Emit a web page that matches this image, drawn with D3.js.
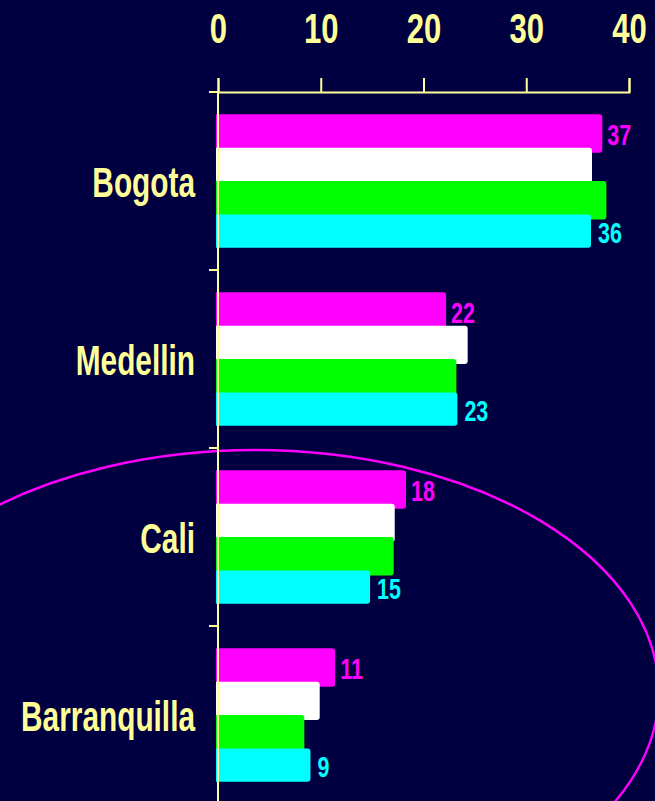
<!DOCTYPE html>
<html>
<head>
<meta charset="utf-8">
<script src="https://cdn.jsdelivr.net/npm/d3@7"></script>
<style>
  html, body { margin: 0; padding: 0; background: #000040; }
  svg { display: block; }
  text { font-family: "Liberation Sans", Arial, sans-serif; font-weight: bold; }
</style>
</head>
<body>
<div id="chart"></div>
<script>
// categories and series
var cities = ["Bogota", "Medellin", "Cali", "Barranquilla"];
var seriesKeys = ["s1", "s2", "s3", "s4"];
var seriesColors = ["#ff00ff", "#ffffff", "#00ff00", "#00ffff"];
var magentaVals = [37.4, 22.2, 18.3, 11.4];
var whiteVals = [36.4, 24.3, 17.2, 9.9];
var greenVals = [37.8, 23.2, 17.1, 8.4];
var cyanVals = [36.3, 23.3, 14.8, 9.0];
var xTicks = [0, 10, 20, 30, 40];
var labelled = ["s1", "s4"];   // only these series carry value labels

var allVals = [magentaVals, whiteVals, greenVals, cyanVals];
var data = cities.map(function(c, i) {
  var row = {city: c};
  seriesKeys.forEach(function(k, j) { row[k] = allVals[j][i]; });
  return row;
});

var W = 655, H = 801,
    axisY = 92, plotBottom = 804,
    left = 218, right = 629,
    axisCol = "#ffff99",
    overlap = 5,
    narrow = 0.74,    // condensed look of the original lettering
    narrowCat = 0.71;

var svg = d3.select("#chart").append("svg")
    .attr("width", W)
    .attr("height", H);

var x = d3.scaleLinear().domain([0, 40]).range([left, right]);
var y0 = d3.scaleBand().domain(cities).range([axisY, plotBottom])
    .paddingInner(0.25).paddingOuter(0.125);
var y1 = d3.scaleBand().domain(seriesKeys).range([0, y0.bandwidth()]);
var color = d3.scaleOrdinal().domain(seriesKeys).range(seriesColors);

// annotation ellipse around the lower part
var bStep = y0.step();
svg.append("ellipse")
    .attr("cx", x(3.6))
    .attr("cy", y0("Barranquilla") + y0.bandwidth() / 2 - 23)
    .attr("rx", x(39.3) - x(0))
    .attr("ry", 242)
    .attr("fill", "none")
    .attr("stroke", "#ff00ff")
    .attr("stroke-width", 2.4);

function barPath(x0, y, w, h, r) {
  return "M" + x0 + "," + y + "H" + (x0 + w - r) +
    "Q" + (x0 + w) + "," + y + " " + (x0 + w) + "," + (y + r) +
    "V" + (y + h - r) +
    "Q" + (x0 + w) + "," + (y + h) + " " + (x0 + w - r) + "," + (y + h) +
    "H" + x0 + "Z";
}
function barH(k) {
  return y1.bandwidth() + (k === seriesKeys[seriesKeys.length - 1] ? 0 : overlap);
}

var group = svg.selectAll(".city")
  .data(data)
  .enter().append("g")
    .attr("class", "city")
    .attr("transform", function(d) { return "translate(0," + y0(d.city) + ")"; });

group.selectAll("path")
    .data(function(d) { return seriesKeys.map(function(k) { return {key: k, value: d[k]}; }); })
  .enter().append("path")
    .attr("fill", function(d) { return color(d.key); })
    .attr("d", function(d) {
      return barPath(x(0) - 2, y1(d.key), x(d.value) - x(0) + 2, barH(d.key), 3);
    });

group.selectAll(".val")
    .data(function(d) {
      return labelled.map(function(k) { return {key: k, value: d[k]}; });
    })
  .enter().append("text")
    .attr("class", "val")
    .attr("transform", "scale(" + narrow + ",1)")
    .attr("x", function(d) { return (x(d.value) + (d.key === "s1" ? 5 : 7)) / narrow; })
    .attr("y", function(d) { return y1(d.key) + barH(d.key) / 2; })
    .attr("dy", "0.4em")
    .attr("fill", function(d) { return color(d.key); })
    .style("font-size", "29px")
    .text(function(d) { return Math.round(d.value); });

// top value axis
var xAxis = d3.axisTop(x).tickValues(xTicks).tickSize(14).tickSizeOuter(14).tickPadding(35);
var gx = svg.append("g")
    .attr("transform", "translate(0," + axisY + ")")
    .call(xAxis);
gx.select(".domain").attr("stroke", axisCol).attr("stroke-width", 2);
gx.selectAll(".tick line").attr("stroke", axisCol).attr("stroke-width", 2);
gx.selectAll(".tick text")
    .attr("fill", axisCol)
    .attr("transform", "scale(" + narrow + ",1)")
    .style("font-size", "42px");

// category axis: vertical line, boundary ticks, labels
svg.append("line")
    .attr("x1", x(0)).attr("x2", x(0))
    .attr("y1", axisY).attr("y2", H)
    .attr("stroke", axisCol).attr("stroke-width", 2);

svg.selectAll(".bound")
  .data(cities)
  .enter().append("line")
    .attr("class", "bound")
    .attr("x1", x(0) - 9).attr("x2", x(0))
    .attr("y1", function(d) { return y0(d) - y0.paddingOuter() * bStep; })
    .attr("y2", function(d) { return y0(d) - y0.paddingOuter() * bStep; })
    .attr("stroke", axisCol).attr("stroke-width", 2);

var yAxis = d3.axisLeft(y0).tickSize(0).tickPadding(23);
var gy = svg.append("g")
    .attr("transform", "translate(" + x(0) + ",0)")
    .call(yAxis);
gy.select(".domain").remove();
gy.selectAll(".tick text")
    .attr("fill", axisCol)
    .attr("transform", "scale(" + narrowCat + ",1)")
    .attr("x", -23 / narrowCat)
    .attr("dy", "0.38em")
    .style("font-size", "42px");
</script>
</body>
</html>
